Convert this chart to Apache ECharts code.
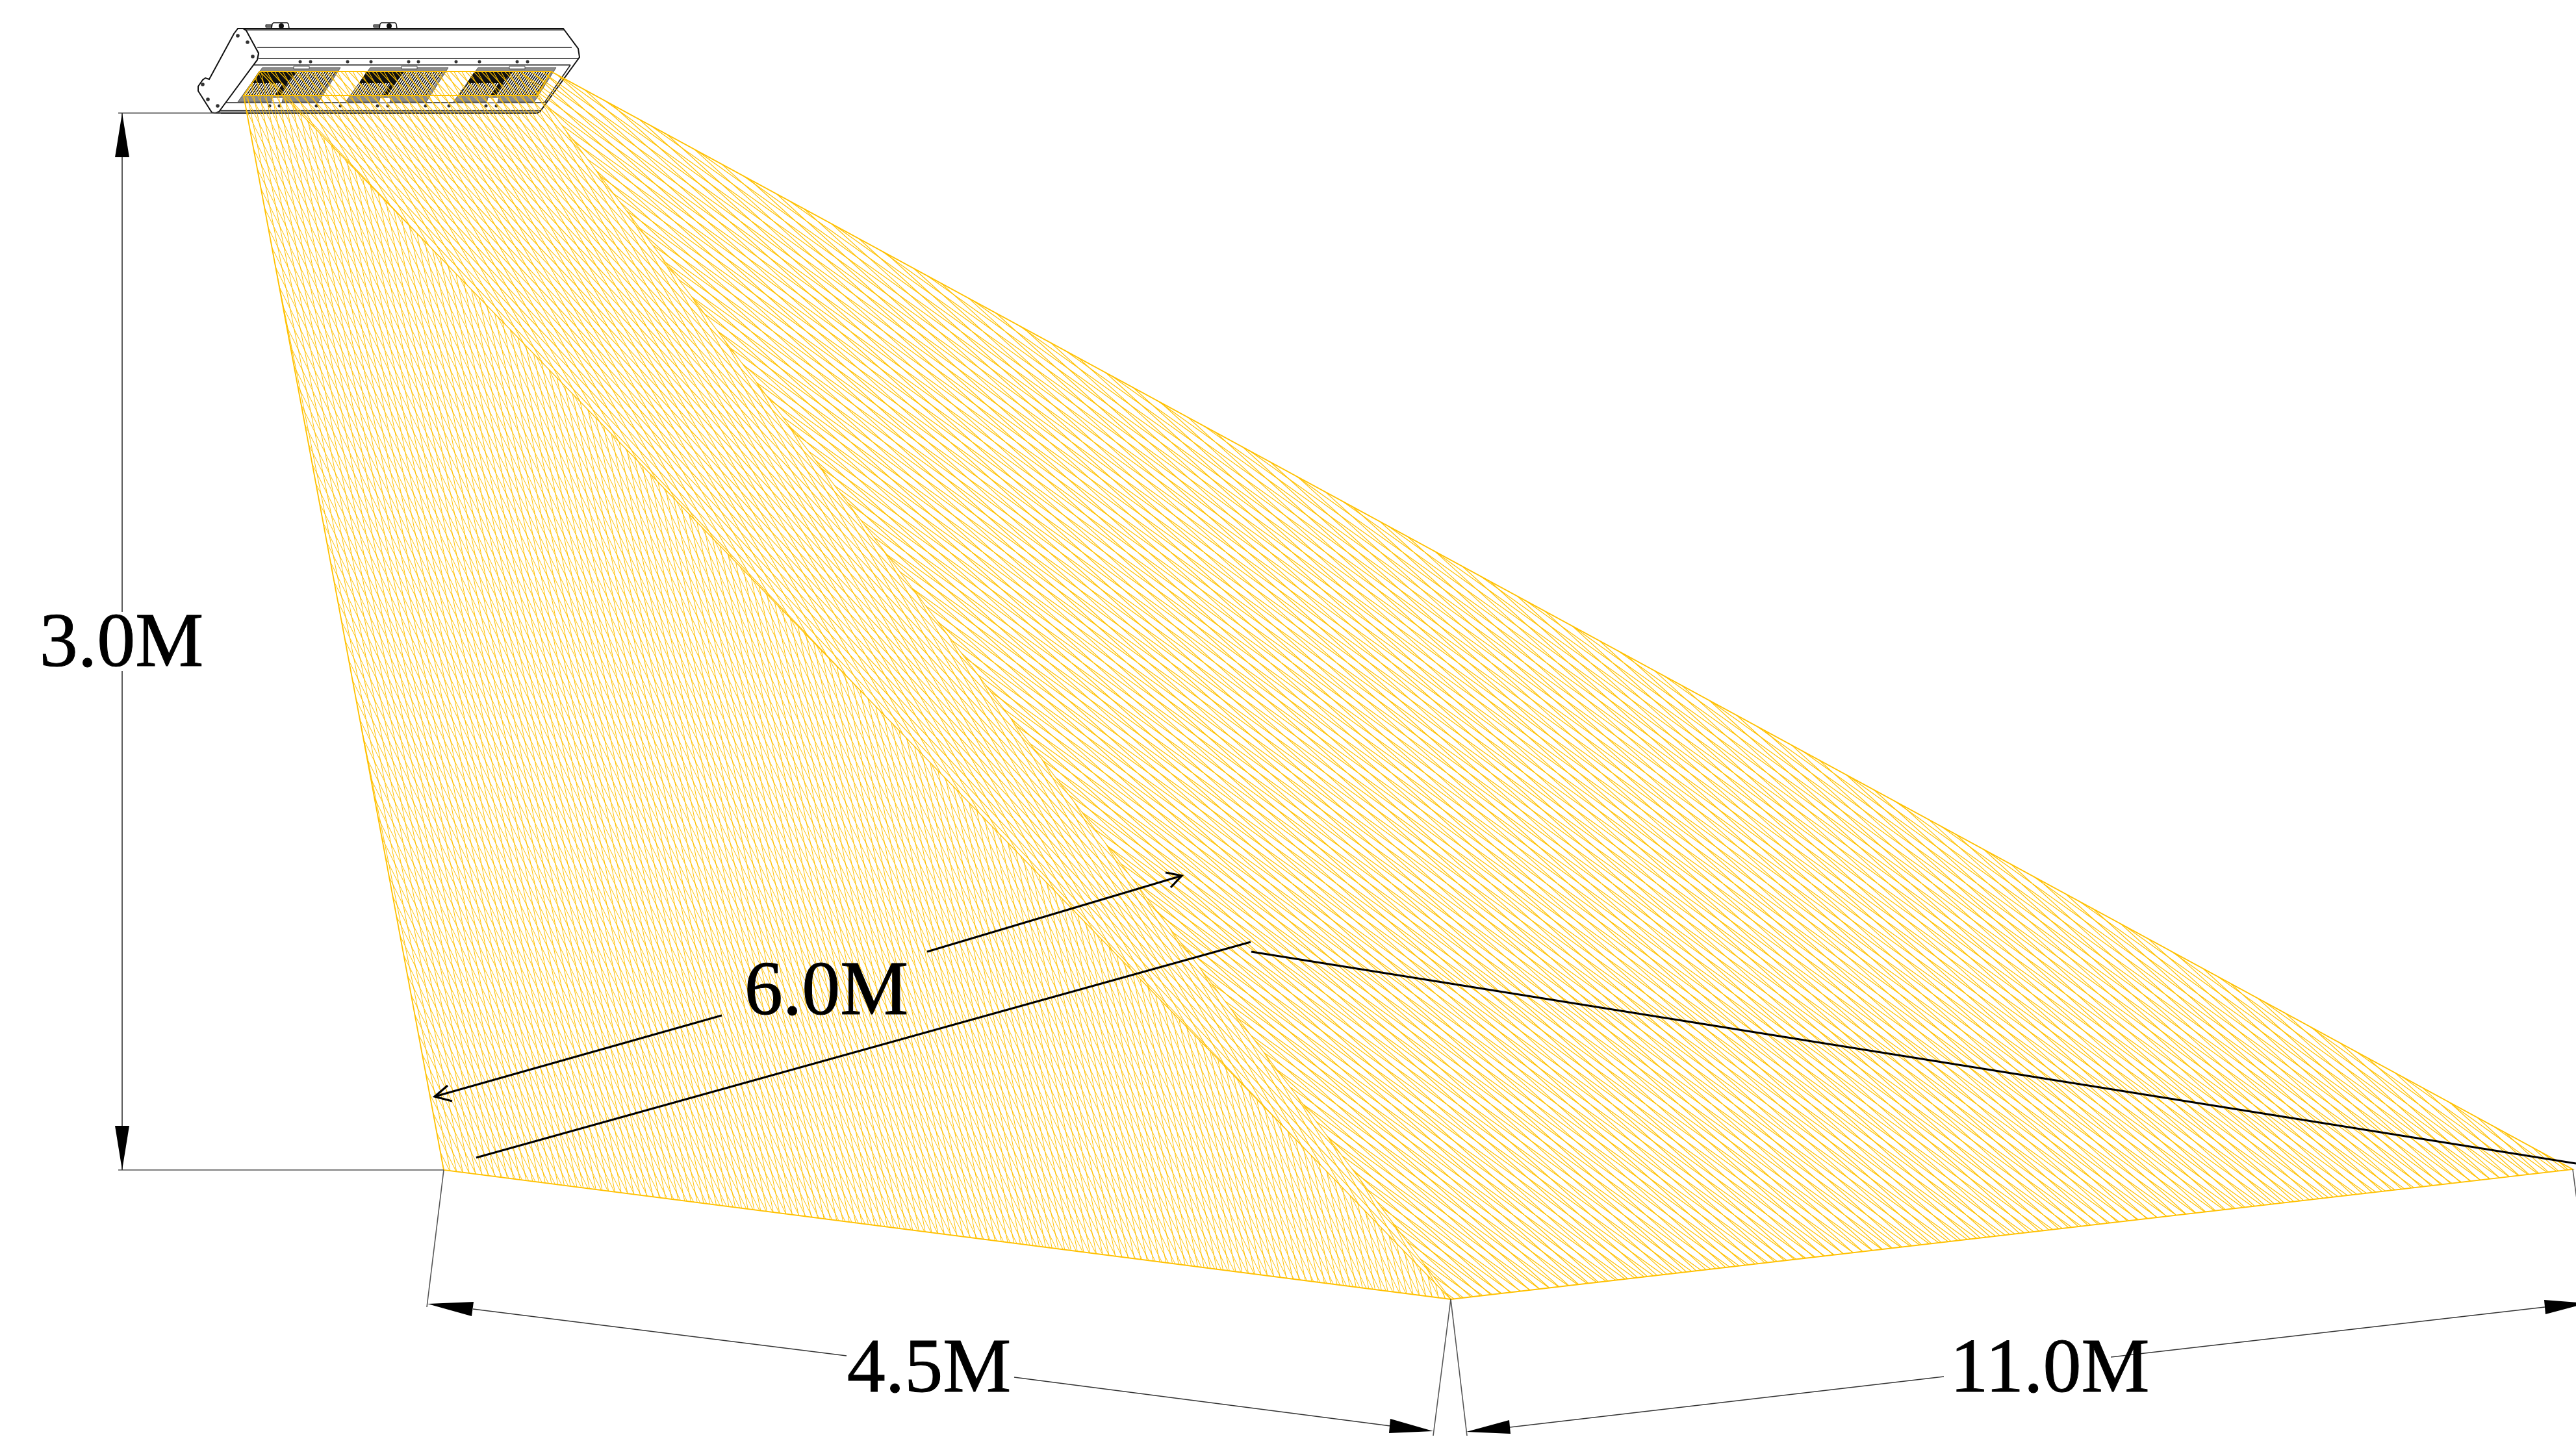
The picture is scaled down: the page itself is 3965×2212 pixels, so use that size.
<!DOCTYPE html>
<html>
<head>
<meta charset="utf-8">
<style>html,body{margin:0;padding:0;background:#fff}#chart{width:3965px;height:2212px}</style>
<script src="https://cdn.jsdelivr.net/npm/echarts@6/dist/echarts.min.js"></script>
</head>
<body>
<div id="chart"></div>
<script>
// ---- beam footprint (drawing units) ----
const beamLeft   = [[400,110],[375,147],[683,1801],[2233,2000]];
const beamMiddle = [[400,110],[802,110],[2233,2000]];
const beamRight  = [[802,110],[848,110],[3960,1800],[2233,2000]];
const beamEdges  = [[[375,147],[683,1801],[2233,2000],[3960,1800],[848,110],[400,110],[375,147],[827,147],[848,110]]];
const beamInner  = [[[400,110],[2233,2000]],[[802,110],[2233,2000]]];

// ---- dimension lines ----
const extensionLines = [
  [[182,174],[340,174]],
  [[182,1801],[683,1801]],
  [[683,1801],[657,2012]],
  [[2233,2000],[2206,2210]],
  [[2233,2000],[2258,2210]],
  [[3960,1800],[3966,1845]]
];
const dimensionLines = [
  [[188,174],[188,942]],
  [[188,1033],[188,1801]],
  [[728,2015],[1303,2087]],
  [[1561,2120],[2140,2195]],
  [[2324,2197],[2992,2119]],
  [[3249,2089],[3917,2012]]
];
const arrowHeads = [
  [[188,174],[177,242],[199,242]],
  [[188,1801],[177,1733],[199,1733]],
  [[658,2007],[729,2004],[726,2026]],
  [[2206,2203],[2140,2184],[2138,2206]],
  [[2257,2204],[2323,2186],[2325,2207]],
  [[3982,2006],[3916,2001],[3918,2023]]
];
const blackLeaders = [
  [[669,1688],[1111,1563]],
  [[1427,1465],[1819,1348]],
  [[689,1671],[669,1688],[696,1695]],
  [[1794,1343],[1819,1348],[1802,1366]],
  [[733,1782],[1925,1450]],
  [[1926,1465],[3965,1791]]
];
const labelTexts  = ['3.0M','6.0M','4.5M','11.0M'];
const labelPoints = [[187,994],[1272,1530],[1430,2111],[3155,2111]];

// ---- luminaire outline ----
const bodyOutline = [[372,44],[867,44],[890,75],[892,88],[831,172],[827,174],[333,174],[345,158],[396,92],[398,82],[377,46]];
const capOutline  = [[366,44],[374,44],[379,47],[398,82],[396,92],[337,172],[331,174],[326,173],[305,140],[305,133],[312,123],[316,120],[322,122],[360,52]];
const bodyLines   = [
  [[373,46],[868,46]],[[396,73],[880,73]],[[398,90],[890,90]],[[387,100],[878,100]],
  [[345,158],[842,158]],[[337,170],[833,170]],[[878,100],[838,158]],[[387,100],[345,158]],[[384,100],[343,157]]
];
const capHoles    = [[366,55],[381,65],[389,87],[312,130],[320,153],[335,163]];
const upperScrews = [[462,95],[478,95],[535,95],[571,95],[629,95],[644,95],[702,95],[738,95],[796,95],[812,95]];
const lowerScrews = [[415,163],[430,163],[487,163],[524,163],[581,163],[597,163],[655,163],[691,163],[748,163],[764,163]];
const moduleShifts  = [0,166,332];
const moduleBand    = [[404,104],[524,104],[490,157],[366,157]];
const moduleLed     = [[399,110],[517,110],[492,146],[375,146]];
const moduleStripes = [
  [[457,110],[517,110],[505,128],[442,128]],
  [[387,128],[436,128],[424,146],[375,146]],
  [[443,128],[505,128],[492,146],[431,146]]
];
const moduleTabs    = [[[452,102],[476,102],[476,106],[452,106]],[[419,150],[436,150],[434,158],[417,158]]];
const bracketShifts = [0,166];
const bracketShape  = [[418,44],[419,37],[421,35],[442,35],[444,37],[445,44]];
const bracketHole   = [433,40];
const bracketScrew  = [[409,38],[418,38],[418,42],[409,42]];

// ---- helpers that turn the arrays into library elements ----
const AMBER = '#FFC000';
function hatchTile(W, H, n, families, background, color, width) {
  const c = document.createElement('canvas');
  c.width = W; c.height = H;
  const g = c.getContext('2d');
  if (background) { g.fillStyle = background; g.fillRect(0, 0, W, H); }
  g.strokeStyle = color; g.lineWidth = width;
  const step = W / n;
  families.forEach(function (m) {
    for (let i = -Math.abs(m) - 1; i <= n + Math.abs(m) + 1; i++) {
      g.beginPath();
      g.moveTo(i * step, 0);
      g.lineTo((i + m) * step, H);
      g.stroke();
    }
  });
  return { image: c, repeat: 'repeat' };
}
const fillLeft    = hatchTile(95, 95, 10, [2, 5], null, AMBER, 1.0);
const fillMiddle  = hatchTile(120, 126, 10, [6, 10], null, AMBER, 1.1);
const fillRight   = hatchTile(170, 170, 10, [11, 14], null, AMBER, 1.2);
const fillStripes = hatchTile(40, 40, 10, [-7], '#0c0c0c', '#ffffff', 1.7);

const toPx = (api, pts) => pts.map(p => api.coord(p));
const poly = (pts, fill, stroke, lw) => api => ({
  type: 'polygon', shape: { points: toPx(api, pts) },
  style: { fill: fill || 'none', stroke: stroke || 'none', lineWidth: lw || 0 }
});
const path = (pts, color, lw) => api => ({
  type: 'polyline', shape: { points: toPx(api, pts) },
  style: { fill: 'none', stroke: color, lineWidth: lw, lineJoin: 'miter' }
});
const dot = (p, r, fill) => api => {
  const c = api.coord(p);
  return { type: 'circle', shape: { cx: c[0], cy: c[1], r: r }, style: { fill: fill } };
};
const shift = (pts, dx) => pts.map(p => [p[0] + dx, p[1]]);

function layer(name, z, items) {
  return {
    type: 'custom', name: name, z: z, silent: true, animation: false, clip: false,
    coordinateSystem: 'cartesian2d',
    data: items.map((_, i) => [i]),
    renderItem: (params, api) => items[params.dataIndex](api)
  };
}

// luminaire
const lumItems = [];
bracketShifts.forEach(dx => {
  lumItems.push(poly(shift(bracketScrew, dx), '#777', '#111', 1));
  lumItems.push(poly(shift(bracketShape, dx), '#fff', '#111', 1.5));
  lumItems.push(dot(shift([bracketHole], dx)[0], 4, '#111'));
});
lumItems.push(poly(bodyOutline, '#fff', '#111', 2));
bodyLines.forEach(l => lumItems.push(path(l, '#222', 1.6)));
lumItems.push(poly([[337,170],[833,170],[827,174],[333,174]], '#999', '#111', 1));
moduleShifts.forEach(dx => {
  lumItems.push(poly(shift(moduleBand, dx), '#8c8c8c', '#555', 1));
  lumItems.push(poly(shift(moduleLed, dx), '#101010', '#111', 1));
  moduleStripes.forEach(s => lumItems.push(poly(shift(s, dx), fillStripes)));
  moduleTabs.forEach(t => lumItems.push(poly(shift(t, dx), '#fff', '#333', 0.8)));
});
upperScrews.forEach(p => lumItems.push(dot(p, 2.5, '#333')));
lowerScrews.forEach(p => lumItems.push(dot(p, 2.5, '#333')));
lumItems.push(poly(capOutline, '#fff', '#111', 2));
capHoles.forEach(p => lumItems.push(dot(p, 2.8, '#333')));

// beam
const beamItems = [
  poly(beamLeft, fillLeft), poly(beamMiddle, fillMiddle), poly(beamRight, fillRight)
];
beamInner.forEach(l => beamItems.push(path(l, AMBER, 1.2)));
beamEdges.forEach(l => beamItems.push(path(l, AMBER, 1.8)));

// dimensions
const dimItems = [];
extensionLines.forEach(l => dimItems.push(path(l, '#555', 1.6)));
dimensionLines.forEach(l => dimItems.push(path(l, '#333', 1.6)));
arrowHeads.forEach(a => dimItems.push(poly(a, '#000')));
blackLeaders.forEach(l => dimItems.push(path(l, '#000', 3.2)));

const chart = echarts.init(document.getElementById('chart'), null, { renderer: 'canvas' });
chart.setOption({
  animation: false,
  backgroundColor: '#fff',
  grid: { left: 0, right: 0, top: 0, bottom: 0 },
  xAxis: { type: 'value', min: 0, max: 3965, show: false },
  yAxis: { type: 'value', min: 0, max: 2212, inverse: true, show: false },
  series: [
    layer('luminaire', 1, lumItems),
    layer('beam', 2, beamItems),
    layer('dimensions', 3, dimItems),
    {
      type: 'scatter', z: 4, silent: true, animation: false, symbolSize: 1,
      itemStyle: { color: 'rgba(0,0,0,0)', opacity: 1 },
      data: labelPoints.map((p, i) => ({ value: p, name: labelTexts[i] })),
      label: {
        show: true, position: 'inside', formatter: '{b}', color: '#000', opacity: 1,
        fontFamily: '"Liberation Serif", serif', fontSize: 118,
        textBorderColor: '#000', textBorderWidth: 1
      }
    }
  ]
});
</script>
</body>
</html>
